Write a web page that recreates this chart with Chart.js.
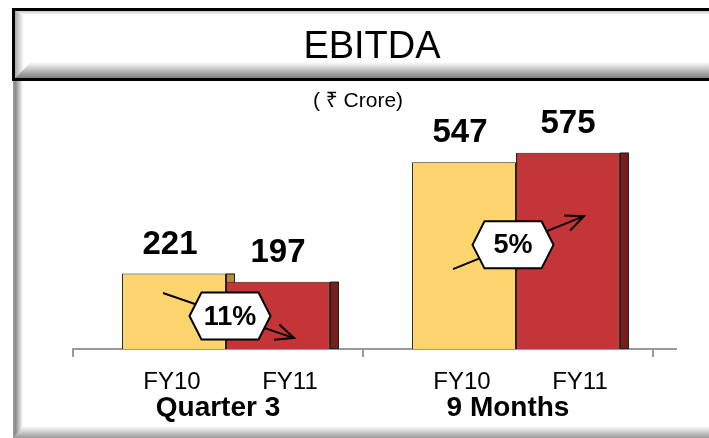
<!DOCTYPE html>
<html>
<head>
<meta charset="utf-8">
<script src="https://cdn.jsdelivr.net/npm/chart.js@4.4.1/dist/chart.umd.min.js"></script>
<style>
    html, body { margin: 0; padding: 0; background: #fff; overflow: hidden; }
    #chartEbitda { display: block; }
</style>
</head>
<body>
<canvas id="chartEbitda" width="709" height="438"></canvas>
<script>
const categories = ['Quarter 3', '9 Months'];
const seriesNames = ['FY10', 'FY11'];
const fy10Values = [221, 547];
const fy11Values = [197, 575];
const growthLabels = ['11%', '5%'];
const chartTitle = 'EBITDA';
const unitLabel = '( \u20B9 Crore)';

const FONT = '"Liberation Sans", Arial, "Noto Sans", "DejaVu Sans", sans-serif';
const SHIFT = 8;   // excel 3d push to the right
const DEPTH = 9;   // width of the side face
const sideColors = ['#b48a3c', '#7a1d1d'];

// arrow ends, in value units (y) for each group
const arrowFrom = [164, 234];
const arrowTo = [32, 389];

function drawArrow(ctx, x1, y1, x2, y2) {
    ctx.beginPath();
    ctx.moveTo(x1, y1);
    ctx.lineTo(x2, y2);
    ctx.stroke();
    const a = Math.atan2(y2 - y1, x2 - x1), L = 20, s = 0.42;
    ctx.beginPath();
    ctx.moveTo(x2 - L * Math.cos(a - s), y2 - L * Math.sin(a - s));
    ctx.lineTo(x2, y2);
    ctx.lineTo(x2 - L * Math.cos(a + s), y2 - L * Math.sin(a + s));
    ctx.stroke();
}

function drawHex(ctx, cx, cy, text) {
    const w = 81, h = 47, k = 12;
    ctx.beginPath();
    ctx.moveTo(cx - w / 2, cy);
    ctx.lineTo(cx - w / 2 + k, cy - h / 2);
    ctx.lineTo(cx + w / 2 - k, cy - h / 2);
    ctx.lineTo(cx + w / 2, cy);
    ctx.lineTo(cx + w / 2 - k, cy + h / 2);
    ctx.lineTo(cx - w / 2 + k, cy + h / 2);
    ctx.closePath();
    ctx.fillStyle = '#fff';
    ctx.fill();
    ctx.lineWidth = 2;
    ctx.strokeStyle = '#000';
    ctx.stroke();
    ctx.fillStyle = '#000';
    ctx.font = 'bold 27px ' + FONT;
    ctx.textAlign = 'center';
    ctx.textBaseline = 'middle';
    ctx.fillText(text, cx, cy + 1);
}

const framePlugin = {
    id: 'frame',
    beforeDraw(chart) {
        const ctx = chart.ctx, W = chart.width, H = chart.height;
        ctx.save();
        ctx.fillStyle = '#fff';
        ctx.fillRect(0, 0, W, H);

        // lower panel bevels
        let g = ctx.createLinearGradient(13, 0, 23, 0);
        g.addColorStop(0, '#a0a0a0');
        g.addColorStop(0.25, '#8c8c8c');
        g.addColorStop(1, '#ffffff');
        ctx.fillStyle = g;
        ctx.fillRect(13, 81, 10, H - 81);
        g = ctx.createLinearGradient(0, 426, 0, H);
        g.addColorStop(0, '#ffffff');
        g.addColorStop(1, '#9a9a9a');
        ctx.fillStyle = g;
        ctx.beginPath();
        ctx.moveTo(24, 426); ctx.lineTo(W, 426); ctx.lineTo(W, H); ctx.lineTo(13, H);
        ctx.closePath();
        ctx.fill();

        // header box
        g = ctx.createLinearGradient(15, 0, 24, 0);
        g.addColorStop(0, '#a8a8a8');
        g.addColorStop(1, '#ffffff');
        ctx.fillStyle = g;
        ctx.fillRect(15, 11, 9, 67);
        g = ctx.createLinearGradient(0, 11, 0, 15);
        g.addColorStop(0, '#c8c8c8');
        g.addColorStop(1, '#ffffff');
        ctx.fillStyle = g;
        ctx.beginPath();
        ctx.moveTo(15, 11); ctx.lineTo(W + 10, 11); ctx.lineTo(W + 10, 15); ctx.lineTo(24, 15);
        ctx.closePath();
        ctx.fill();
        g = ctx.createLinearGradient(0, 62, 0, 78);
        g.addColorStop(0, '#ffffff');
        g.addColorStop(1, '#808080');
        ctx.fillStyle = g;
        ctx.beginPath();
        ctx.moveTo(31, 62); ctx.lineTo(W + 10, 62); ctx.lineTo(W + 10, 78); ctx.lineTo(15, 78);
        ctx.closePath();
        ctx.fill();
        ctx.lineWidth = 3;
        ctx.strokeStyle = '#000';
        ctx.beginPath();
        ctx.moveTo(W + 5, 9.5);
        ctx.lineTo(13.5, 9.5);
        ctx.lineTo(13.5, 79.5);
        ctx.lineTo(W + 5, 79.5);
        ctx.stroke();

        ctx.fillStyle = '#000';
        ctx.textAlign = 'center';
        ctx.textBaseline = 'middle';
        ctx.font = '38px ' + FONT;
        ctx.fillText(chartTitle, 372, 48);
        ctx.font = '21px ' + FONT;
        ctx.fillText(unitLabel, 358, 101);
        ctx.restore();
    }
};

const depthPlugin = {
    id: 'depth',
    beforeDatasetsDraw(chart) {
        const ctx = chart.ctx, area = chart.chartArea;
        // axis line runs a bit past the last tick
        ctx.save();
        ctx.strokeStyle = '#999';
        ctx.lineWidth = 2;
        ctx.beginPath();
        ctx.moveTo(area.right, area.bottom);
        ctx.lineTo(area.right + 24, area.bottom);
        ctx.stroke();
        ctx.restore();

        ctx.save();
        ctx.translate(SHIFT, 0);
        chart.data.datasets.forEach((ds, d) => {
            chart.getDatasetMeta(d).data.forEach(bar => {
                const x = bar.x + bar.width / 2;
                ctx.fillStyle = sideColors[d];
                ctx.fillRect(x, bar.y, DEPTH, bar.base - bar.y);
                ctx.lineWidth = 1;
                ctx.strokeStyle = '#222';
                ctx.strokeRect(x + 0.5, bar.y + 0.5, DEPTH - 1, bar.base - bar.y - 1);
            });
        });
    },
    afterDatasetsDraw(chart) {
        const ctx = chart.ctx;
        ctx.restore();
        const xScale = chart.scales.x, yScale = chart.scales.y;
        const m0 = chart.getDatasetMeta(0).data, m1 = chart.getDatasetMeta(1).data;
        ctx.save();
        ctx.fillStyle = '#000';
        ctx.textAlign = 'center';
        ctx.textBaseline = 'middle';

        // value labels
        ctx.font = 'bold 33px ' + FONT;
        [m0, m1].forEach((meta, d) => {
            meta.forEach((bar, i) => {
                const v = chart.data.datasets[d].data[i];
                ctx.fillText(String(v), bar.x + SHIFT - (d === 0 ? 4 : 0), bar.y - 29);
            });
        });

        // x labels
        categories.forEach((cat, i) => {
            ctx.font = '24px ' + FONT;
            ctx.fillText(seriesNames[0], m0[i].x + SHIFT - 2, 382);
            ctx.fillText(seriesNames[1], m1[i].x + SHIFT + 12, 382);
            ctx.font = 'bold 28px ' + FONT;
            ctx.fillText(cat, xScale.getPixelForValue(i), 408);
        });

        // growth arrows and tags
        ctx.strokeStyle = '#000';
        ctx.lineWidth = 2;
        categories.forEach((cat, i) => {
            const x1 = m0[i].x + SHIFT - 11, x2 = m1[i].x + SHIFT + 16;
            const y1 = yScale.getPixelForValue(arrowFrom[i]);
            const y2 = yScale.getPixelForValue(arrowTo[i]);
            drawArrow(ctx, x1, y1, x2, y2);
            const hx = m0[i].x + m0[i].width / 2 + SHIFT + (i === 0 ? 4 : -3);
            const hy = y1 + (y2 - y1) * (hx - x1) / (x2 - x1);
            drawHex(ctx, hx, hy, growthLabels[i]);
        });
        ctx.restore();
    }
};

function renderEbitda() {
    const data = {
        labels: categories,
        datasets: [{
            label: seriesNames[0],
            data: fy10Values,
            backgroundColor: '#fdd46e',
            borderColor: '#222',
            borderWidth: 1
        }, {
            label: seriesNames[1],
            data: fy11Values,
            backgroundColor: '#c33537',
            borderColor: '#222',
            borderWidth: 1
        }]
    };
    const config = {
        type: 'bar',
        data: data,
        options: {
            responsive: false,
            animation: false,
            layout: {
                padding: { left: 73, right: 56, top: 110, bottom: 81 }
            },
            datasets: {
                bar: { categoryPercentage: 0.717, barPercentage: 1 }
            },
            scales: {
                x: {
                    grid: {
                        offset: true,
                        drawOnChartArea: false,
                        tickLength: 8,
                        color: '#999',
                        lineWidth: 2
                    },
                    border: { color: '#999', width: 2 },
                    ticks: { display: false }
                },
                y: {
                    display: false,
                    min: 0,
                    max: 700
                }
            },
            plugins: {
                legend: { display: false },
                tooltip: { enabled: false }
            }
        },
        plugins: [framePlugin, depthPlugin]
    };
    new Chart(document.getElementById('chartEbitda'), config);
}

renderEbitda();
</script>
</body>
</html>
